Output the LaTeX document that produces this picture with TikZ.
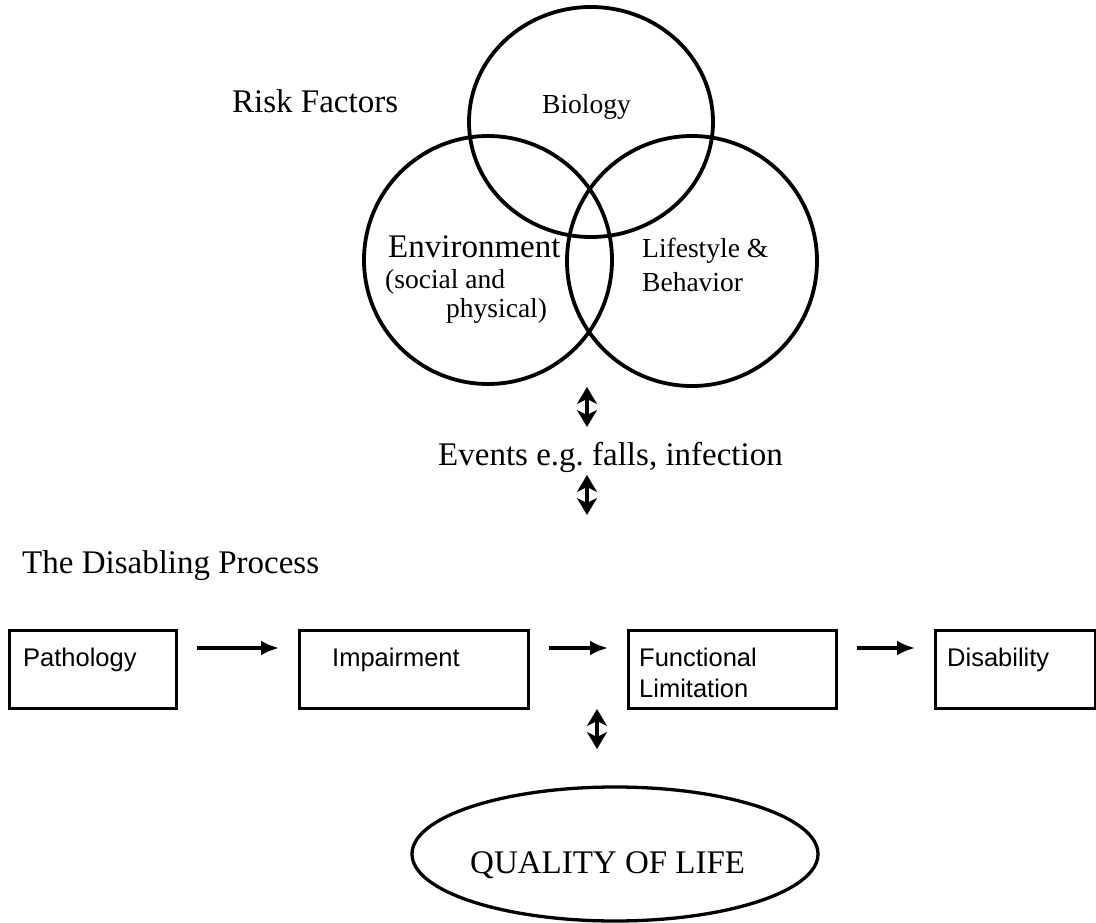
\documentclass[tikz,border=0pt]{standalone}
\usepackage{fontspec}
\setmainfont{Liberation Serif}
\newfontfamily\boxfont{Liberation Sans}
\usetikzlibrary{arrows.meta,shapes.geometric}

\begin{document}
\frenchspacing
\begin{tikzpicture}[x=1pt,y=-1pt,
  venn/.style={draw, ellipse, line width=3.8pt, inner sep=0pt},
  stagebox/.style={draw, rectangle, line width=3.3pt, inner sep=0pt},
  lbl/.style={inner sep=0pt, anchor=base west},
  big/.style={font=\fontsize{33}{33}\selectfont},
  mid/.style={font=\fontsize{27.5}{27.5}\selectfont},
  boxtxt/.style={font=\boxfont\fontsize{25.5}{25.5}\selectfont},
  flow/.style={line width=3.4pt, -{Latex[length=18pt,width=15pt]}, shorten <=19pt, shorten >=19pt},
  dbl/.style={line width=3.4pt, {Stealth[length=17pt,width=20pt,inset=5pt]}-{Stealth[length=17pt,width=20pt,inset=5pt]}}
]
\useasboundingbox (0,0) rectangle (1096,923);

% Risk factor circles
\node[venn, minimum width=244pt, minimum height=230pt] (bio) at (591,122) {};
\node[venn, minimum width=248pt, minimum height=248pt] (env) at (488,260) {};
\node[venn, minimum width=250pt, minimum height=250pt] (life) at (692,261) {};

\node[lbl, big] (risk) at (232,113) {Risk Factors};
\node[lbl, mid] (biot) at (542,114) {Biology};
\node[lbl, big] (envt) at (388,258) {Environment};
\node[lbl, mid] (envs) at (385,288) {(social and};
\node[lbl, mid] (envp) at (446,317) {physical)};
\node[lbl, mid] (lifet) at (642,258) {Lifestyle \&};
\node[lbl, mid] (lifeb) at (642,291) {Behavior};

% Events between risk factors and the disabling process
\coordinate (a1top) at (587,387);
\coordinate (a1bot) at (587,427);
\draw[dbl] (a1top) -- (a1bot);
\node[lbl, big] (events) at (438,465) {Events e.g. falls, infection};
\coordinate (a2top) at (587,475);
\coordinate (a2bot) at (587,515);
\draw[dbl] (a2top) -- (a2bot);

\node[lbl, big] (dis) at (22,573) {The Disabling Process};

% Stages of the disabling process
\node[stagebox, anchor=north west, minimum width=167pt, minimum height=78pt] (path) at (8,629) {};
\node[stagebox, anchor=north west, minimum width=229pt, minimum height=78pt] (imp) at (298,629) {};
\node[stagebox, anchor=north west, minimum width=208pt, minimum height=78pt] (func) at (627,629) {};
\node[stagebox, anchor=north west, minimum width=160pt, minimum height=78pt] (disab) at (934,629) {};

\node[lbl, boxtxt] (patht) at (23,666) {Pathology};
\node[lbl, boxtxt] (impt) at (332,666) {Impairment};
\node[lbl, boxtxt] (funct) at (639,666) {Functional};
\node[lbl, boxtxt] (funcl) at (639,697) {Limitation};
\node[lbl, boxtxt] (disabt) at (947,666) {Disability};

\coordinate (ay) at (0,648);
\draw[flow] (path.east |- ay) -- (imp.west |- ay);
\draw[flow] (imp.east |- ay) -- (func.west |- ay);
\draw[flow] (func.east |- ay) -- (disab.west |- ay);

% Quality of life
\coordinate (a3top) at (597,709);
\coordinate (a3bot) at (597,749);
\draw[dbl] (a3top) -- (a3bot);
\node[draw, ellipse, line width=3.3pt, inner sep=0pt, minimum width=406pt, minimum height=134pt] (qol) at (615,854) {};
\node[lbl, big] (qolt) at (470,873) {QUALITY OF LIFE};
\end{tikzpicture}
\end{document}
